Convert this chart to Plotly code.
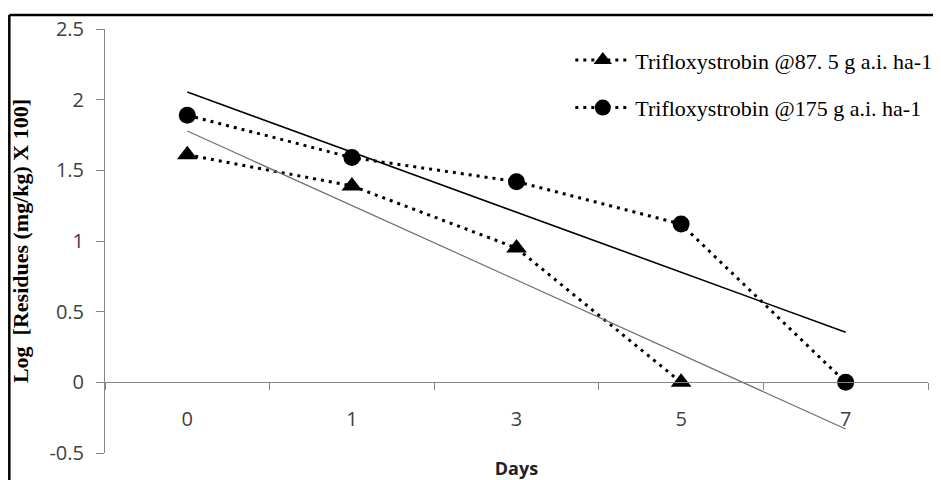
import numpy as np
import plotly.graph_objects as go

days = ["0", "1", "3", "5", "7"]
low_dose_name = "Trifloxystrobin @87. 5 g a.i. ha-1"
high_dose_name = "Trifloxystrobin @175 g a.i. ha-1"
low_dose = [1.61, 1.39, 0.95, 0.0]
high_dose = [1.89, 1.59, 1.42, 1.12, 0.0]
y_ticks = [-0.5, 0, 0.5, 1, 1.5, 2, 2.5]
y_tick_text = ["-0.5", "0", "0.5", "1", "1.5", "2", "2.5"]


def trend(values, n_out):
    idx = np.arange(len(values))
    slope, intercept = np.polyfit(idx, values, 1)
    return [intercept, intercept + slope * (n_out - 1)]


fig = go.Figure()
dot_line = dict(color="black", width=3, dash="3px,5px")

fig.add_trace(go.Scatter(
    x=days[:len(low_dose)], y=low_dose, mode="lines+markers", name=low_dose_name,
    line=dot_line, marker=dict(symbol="triangle-up", size=18, color="black"),
    legendgroup="a",
))
fig.add_trace(go.Scatter(
    x=days, y=high_dose, mode="lines+markers", name=high_dose_name,
    line=dot_line, marker=dict(symbol="circle", size=17, color="black"),
    legendgroup="b",
))
fig.add_trace(go.Scatter(
    x=[days[0], days[-1]], y=trend(low_dose, len(days)), mode="lines",
    line=dict(color="#6e6e6e", width=1.2), showlegend=False, hoverinfo="skip",
))
fig.add_trace(go.Scatter(
    x=[days[0], days[-1]], y=trend(high_dose, len(days)), mode="lines",
    line=dict(color="black", width=1.6), showlegend=False, hoverinfo="skip",
))

y_min, y_max = y_ticks[0], y_ticks[-1]
axis_col = "#868686"
tick_font = dict(family="Open Sans", size=20, color="#404040")

L, T, PW, PH = 97, 21, 824, 424

fig.update_layout(
    width=941, height=480,
    margin=dict(l=L, r=941 - L - PW, t=T, b=480 - T - PH),
    paper_bgcolor="white", plot_bgcolor="white",
    showlegend=True,
    legend=dict(
        x=0.5647, y=0.976, xanchor="left", yanchor="top",
        font=dict(family="Liberation Serif", size=22, color="black"),
        bgcolor="rgba(0,0,0,0)", traceorder="grouped", tracegroupgap=16,
        itemwidth=55,
    ),
    xaxis=dict(
        type="category", range=[-0.5, len(days) - 0.5],
        anchor="free", position=(0 - y_min) / (y_max - y_min),
        showline=True, linecolor=axis_col, linewidth=1,
        ticks="outside", ticklen=7, tickcolor=axis_col, tickson="boundaries",
        showgrid=False, zeroline=False, tickfont=tick_font, automargin=False,
        ticklabelstandoff=19,
        title=dict(text="<b>Days</b>", font=dict(family="Open Sans", size=18, color="#222"),
                   standoff=31),
    ),
    yaxis=dict(
        range=[y_min, y_max], tickvals=y_ticks, ticktext=y_tick_text,
        showline=True, linecolor=axis_col, linewidth=1,
        ticks="outside", ticklen=8, tickcolor=axis_col, automargin=False,
        showgrid=False, zeroline=False, tickfont=tick_font,
        ticklabelstandoff=8,
        title=dict(text="<b>Log  [Residues (mg/kg) X 100]</b>",
                   font=dict(family="Liberation Serif", size=22, color="black"),
                   standoff=25),
    ),
    shapes=[
        dict(type="line", xref="paper", yref="paper",
             x0=(1.2 - L) / PW, x1=1.1, y0=(T + PH - 7) / PH, y1=(T + PH - 7) / PH,
             line=dict(color="black", width=2.5)),
        dict(type="line", xref="paper", yref="paper",
             x0=(1.2 - L) / PW, x1=(1.2 - L) / PW, y0=(T + PH - 7) / PH, y1=-0.2,
             line=dict(color="black", width=2.5)),
    ],
)

fig.write_html("out.html")
